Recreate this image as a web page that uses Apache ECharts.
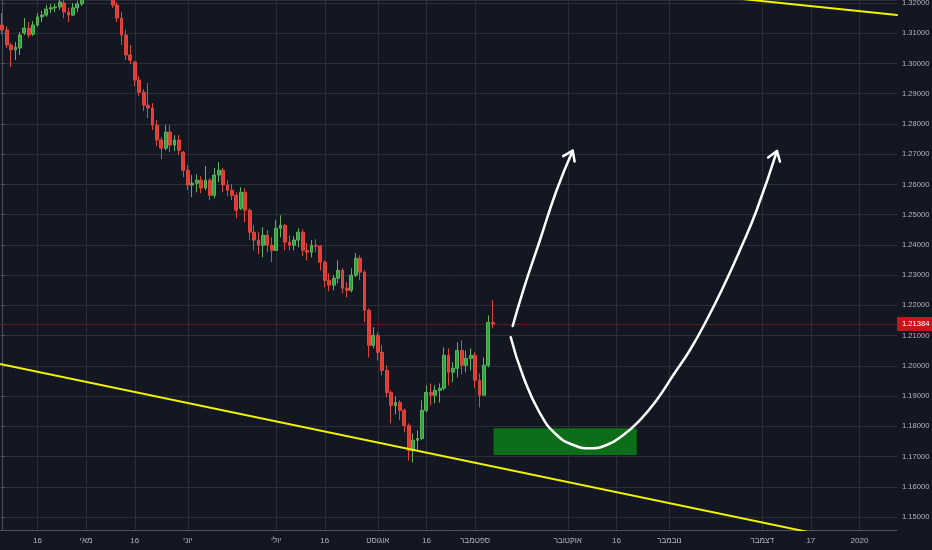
<!DOCTYPE html>
<html>
<head>
<meta charset="utf-8">
<style>
  html, body { margin: 0; padding: 0; background: #131722; }
  #chart { width: 932px; height: 550px; }
</style>
<script src="https://cdn.jsdelivr.net/npm/echarts@6.0.0/dist/echarts.min.js"></script>
</head>
<body>
<div id="chart"></div>
<script>
// trading days shown on the time scale (weekends skipped, like the source chart)
const firstDay = '2019-04-04';
const dayCount = 203;

// time-scale labels
const tickDates = ['2019-04-16', '2019-05-01', '2019-05-16', '2019-06-03', '2019-07-01', '2019-07-16',
  '2019-08-01', '2019-08-16', '2019-09-02', '2019-10-01', '2019-10-16', '2019-11-01',
  '2019-12-02', '2019-12-17', '2020-01-01'];
const tickTexts = ['16', 'מאי', '16', 'יוני', 'יולי', '16', 'אוגוסט', '16', 'ספטמבר',
  'אוקטובר', '16', 'נובמבר', 'דצמבר', '17', '2020'];

// daily candles: [open, close, low, high]
const candles = [
  [1.3127, 1.3111, 1.3097, 1.3167], [1.3111, 1.3061, 1.3051, 1.3124], [1.3061, 1.3045, 1.2988, 1.3068],
  [1.3045, 1.3054, 1.3011, 1.3071], [1.3051, 1.3094, 1.3028, 1.3104], [1.3101, 1.3117, 1.3094, 1.3150],
  [1.3117, 1.3094, 1.3084, 1.3137], [1.3097, 1.3127, 1.3091, 1.3140], [1.3127, 1.3154, 1.3121, 1.3167],
  [1.3154, 1.3160, 1.3137, 1.3174], [1.3160, 1.3180, 1.3154, 1.3193], [1.3180, 1.3184, 1.3167, 1.3197],
  [1.3184, 1.3187, 1.3170, 1.3197], [1.3187, 1.3203, 1.3177, 1.3213], [1.3200, 1.3170, 1.3150, 1.3210],
  [1.3170, 1.3160, 1.3137, 1.3184], [1.3160, 1.3184, 1.3157, 1.3200], [1.3184, 1.3197, 1.3170, 1.3207],
  [1.3197, 1.3230, 1.3190, 1.3243], [1.3230, 1.3260, 1.3223, 1.3276], [1.3260, 1.3293, 1.3250, 1.3303],
  [1.3293, 1.3276, 1.3260, 1.3309], [1.3276, 1.3303, 1.3270, 1.3316], [1.3303, 1.3270, 1.3260, 1.3309],
  [1.3270, 1.3223, 1.3217, 1.3276], [1.3223, 1.3193, 1.3184, 1.3230], [1.3193, 1.3150, 1.3137, 1.3203],
  [1.3150, 1.3094, 1.3061, 1.3170], [1.3094, 1.3028, 1.3011, 1.3111], [1.3028, 1.3011, 1.2998, 1.3061],
  [1.3005, 1.2945, 1.2925, 1.3008], [1.2945, 1.2905, 1.2892, 1.2958], [1.2905, 1.2862, 1.2843, 1.2915],
  [1.2862, 1.2853, 1.2819, 1.2935], [1.2853, 1.2796, 1.2780, 1.2869], [1.2796, 1.2747, 1.2727, 1.2813],
  [1.2747, 1.2720, 1.2684, 1.2757], [1.2720, 1.2773, 1.2713, 1.2796], [1.2773, 1.2730, 1.2707, 1.2796],
  [1.2730, 1.2747, 1.2710, 1.2763], [1.2747, 1.2713, 1.2697, 1.2763], [1.2707, 1.2647, 1.2624, 1.2710],
  [1.2647, 1.2598, 1.2581, 1.2664], [1.2598, 1.2604, 1.2558, 1.2631], [1.2604, 1.2614, 1.2574, 1.2634],
  [1.2614, 1.2588, 1.2571, 1.2627], [1.2588, 1.2614, 1.2581, 1.2661], [1.2614, 1.2564, 1.2548, 1.2621],
  [1.2564, 1.2631, 1.2554, 1.2654], [1.2631, 1.2647, 1.2608, 1.2674], [1.2647, 1.2598, 1.2574, 1.2654],
  [1.2598, 1.2581, 1.2561, 1.2614], [1.2581, 1.2564, 1.2548, 1.2601], [1.2564, 1.2515, 1.2488, 1.2574],
  [1.2521, 1.2574, 1.2515, 1.2591], [1.2574, 1.2515, 1.2475, 1.2588], [1.2515, 1.2442, 1.2416, 1.2521],
  [1.2442, 1.2416, 1.2382, 1.2465], [1.2416, 1.2399, 1.2369, 1.2442], [1.2399, 1.2432, 1.2359, 1.2459],
  [1.2432, 1.2399, 1.2376, 1.2449], [1.2399, 1.2382, 1.2343, 1.2425], [1.2382, 1.2455, 1.2382, 1.2482],
  [1.2455, 1.2465, 1.2425, 1.2498], [1.2465, 1.2409, 1.2382, 1.2469], [1.2409, 1.2399, 1.2382, 1.2432],
  [1.2399, 1.2416, 1.2382, 1.2429], [1.2416, 1.2442, 1.2392, 1.2455], [1.2442, 1.2382, 1.2363, 1.2452],
  [1.2382, 1.2376, 1.2349, 1.2406], [1.2376, 1.2399, 1.2359, 1.2416], [1.2399, 1.2396, 1.2376, 1.2419],
  [1.2396, 1.2343, 1.2316, 1.2399], [1.2343, 1.2283, 1.2260, 1.2349], [1.2283, 1.2267, 1.2247, 1.2306],
  [1.2267, 1.2290, 1.2250, 1.2300], [1.2290, 1.2316, 1.2273, 1.2349], [1.2316, 1.2257, 1.2240, 1.2323],
  [1.2257, 1.2250, 1.2227, 1.2277], [1.2250, 1.2300, 1.2243, 1.2323], [1.2300, 1.2356, 1.2293, 1.2373],
  [1.2356, 1.2310, 1.2283, 1.2366], [1.2310, 1.2184, 1.2144, 1.2316], [1.2184, 1.2068, 1.2028, 1.2190],
  [1.2068, 1.2101, 1.2058, 1.2128], [1.2101, 1.2045, 1.2018, 1.2111], [1.2045, 1.1985, 1.1969, 1.2068],
  [1.1985, 1.1912, 1.1896, 1.2002], [1.1912, 1.1869, 1.1810, 1.1919], [1.1869, 1.1879, 1.1840, 1.1899],
  [1.1879, 1.1853, 1.1820, 1.1886], [1.1853, 1.1803, 1.1780, 1.1859], [1.1803, 1.1720, 1.1687, 1.1810],
  [1.1720, 1.1754, 1.1681, 1.1777], [1.1754, 1.1760, 1.1720, 1.1787], [1.1760, 1.1853, 1.1754, 1.1886],
  [1.1853, 1.1912, 1.1846, 1.1936], [1.1912, 1.1903, 1.1869, 1.1942], [1.1903, 1.1919, 1.1876, 1.1936],
  [1.1919, 1.1926, 1.1879, 1.1942], [1.1926, 1.2035, 1.1919, 1.2061], [1.2035, 1.1979, 1.1936, 1.2058],
  [1.1979, 1.1992, 1.1946, 1.2012], [1.1992, 1.2051, 1.1962, 1.2078], [1.2051, 1.2002, 1.1972, 1.2085],
  [1.2002, 1.2025, 1.1979, 1.2051], [1.2025, 1.2035, 1.1985, 1.2058], [1.2035, 1.1952, 1.1926, 1.2045],
  [1.1952, 1.1903, 1.1863, 1.1975], [1.1903, 1.2002, 1.1903, 1.2028], [1.2002, 1.2144, 1.1995, 1.2167],
  [1.2144, 1.21384, 1.2124, 1.2217]
];
const lastPrice = 1.21384;

// drawings, as [trading-day number from firstDay, price]
const supportLine = [[-0.5, 1.20066], [202.5, 1.13895]];
const resistanceLine = [[160, 1.32245], [202.5, 1.31600]];
const arrowUp = [[115.53, 1.21319], [117.93, 1.22509], [121.71, 1.24163], [125.49, 1.25816], [129.11, 1.27116]];
const arrowUpHead = [[126.96, 1.26934], [129.11, 1.27116], [129.54, 1.26759]];
const arrowDip = [[115.08, 1.20945], [117.93, 1.19642], [121.71, 1.18432], [125.49, 1.17714], [129.25, 1.17384],
  [133.02, 1.17274], [136.80, 1.17384], [140.56, 1.17714], [144.34, 1.18210], [148.12, 1.18872],
  [151.88, 1.19698], [155.65, 1.20525], [159.43, 1.21517], [163.19, 1.22618], [166.97, 1.23832],
  [170.75, 1.25155], [175.34, 1.27106]];
const arrowDipHead = [[173.33, 1.26891], [175.34, 1.27106], [176.02, 1.26755]];
const buyZoneDays = [111.2, 143.6];
const buyZonePrices = [1.17053, 1.17936];

function tradingDays(start, count) {
  const out = [];
  const d = new Date(start + 'T00:00:00Z');
  while (out.length < count) {
    const wd = d.getUTCDay();
    if (wd !== 0 && wd !== 6) out.push(d.toISOString().slice(0, 10));
    d.setUTCDate(d.getUTCDate() + 1);
  }
  return out;
}

const days = tradingDays(firstDay, dayCount);
const tickMap = {};
tickDates.forEach((d, i) => { tickMap[d] = tickTexts[i]; });

const font = "'Liberation Sans', 'DejaVu Sans', sans-serif";
const gridColor = '#2a2e39';
const axisColor = '#4c525e';
const textColor = '#b2b5be';

const drawLine = (data, color, width, smooth) => ({
  type: 'line',
  xAxisIndex: 1,
  data: data,
  smooth: smooth,
  symbol: 'none',
  silent: true,
  z: 4,
  lineStyle: { color: color, width: width, cap: 'round', join: 'round' }
});

const chart = echarts.init(document.getElementById('chart'));

const option = {
  backgroundColor: '#131722',
  animation: false,
  grid: { left: 0, right: 35, top: 0, bottom: 20, containLabel: false, outerBoundsMode: 'none' },
  xAxis: [
    {
      type: 'category',
      data: days,
      boundaryGap: true,
      axisLine: { show: true, lineStyle: { color: axisColor, width: 1 } },
      axisTick: { show: false },
      splitLine: { show: false },
      axisLabel: {
        interval: (index, value) => tickMap[value] !== undefined,
        formatter: value => tickMap[value] || '',
        color: textColor,
        fontSize: 8,
        fontFamily: font,
        margin: 7
      }
    },
    { type: 'value', min: -0.5, max: dayCount - 0.5, show: false }
  ],
  yAxis: {
    type: 'value',
    position: 'right',
    min: 1.14573,
    max: 1.32099,
    splitNumber: 17,
    minInterval: 0.01,
    maxInterval: 0.01,
    axisLine: { show: true, lineStyle: { color: axisColor, width: 1 } },
    axisTick: { show: true, length: 3, lineStyle: { color: axisColor } },
    splitLine: { show: true, lineStyle: { color: gridColor, width: 1 } },
    axisLabel: {
      showMinLabel: false,
      showMaxLabel: false,
      formatter: v => v.toFixed(5),
      color: textColor,
      fontSize: 7.6,
      fontFamily: font,
      margin: 5
    }
  },
  series: [
    {
      type: 'candlestick',
      data: candles,
      barWidth: '75%',
      z: 3,
      itemStyle: {
        color: '#2aa63f',
        color0: '#e23a34',
        borderColor: '#5fb35a',
        borderColor0: '#e0473c',
        borderWidth: 1
      },
      markLine: {
        silent: true,
        z: 1,
        precision: 5,
        symbol: ['none', 'none'],
        animation: false,
        label: { show: false },
        lineStyle: { color: gridColor, width: 1, type: 'solid' },
        data: tickDates.map(d => ({ xAxis: d })).concat([{
          yAxis: lastPrice,
          lineStyle: { color: '#5e1b21', width: 1, type: 'solid' },
          label: {
            show: true,
            position: 'end',
            distance: 0,
            align: 'left',
            verticalAlign: 'middle',
            formatter: lastPrice.toFixed(5),
            color: '#ffffff',
            backgroundColor: '#c8151c',
            fontSize: 7.6,
            fontFamily: font,
            padding: [3, 4, 3, 5]
          }
        }])
      }
    },
    drawLine(supportLine, '#f2f200', 2, false),
    drawLine(resistanceLine, '#f2f200', 2, false),
    Object.assign(drawLine(arrowDip, '#ffffff', 2.5, true), {
      markArea: {
        silent: true,
        z: 2,
        itemStyle: { color: '#0c6e18', opacity: 1 },
        data: [[
          { coord: [buyZoneDays[0], buyZonePrices[1]] },
          { coord: [buyZoneDays[1], buyZonePrices[0]] }
        ]]
      }
    }),
    drawLine(arrowDipHead, '#ffffff', 2.5, false),
    drawLine(arrowUp, '#ffffff', 2.5, true),
    drawLine(arrowUpHead, '#ffffff', 2.5, false)
  ]
};

chart.setOption(option);
</script>
</body>
</html>
